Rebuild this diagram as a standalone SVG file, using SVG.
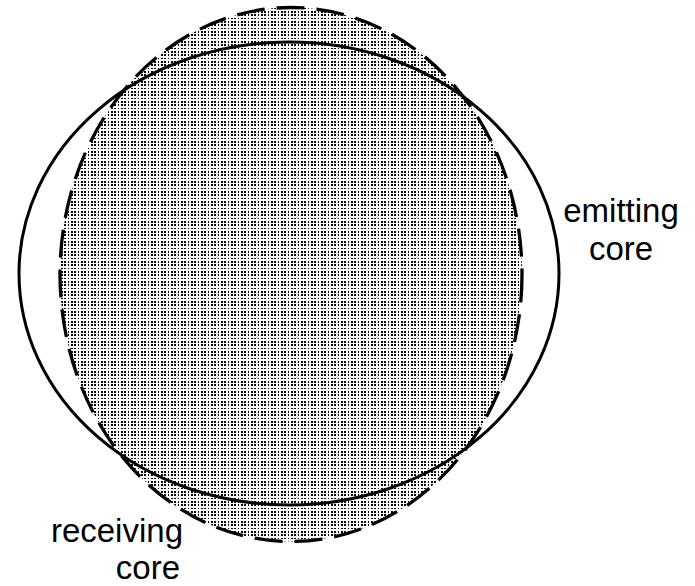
<svg xmlns="http://www.w3.org/2000/svg" width="695" height="586" viewBox="0 0 695 586">
  <style>
    .lbl { font-family: "Liberation Sans", Arial, sans-serif; font-size: 33px; fill: #000; }
    .solid { fill: none; stroke: #000; stroke-width: 3; }
    .dashed { fill: url(#dots); stroke: #000; stroke-width: 3.3; stroke-dasharray: 28 12; }
  </style>
  <defs>
    <pattern id="dots" patternUnits="userSpaceOnUse" width="10" height="10">
      <rect width="10" height="10" fill="#fff"/>
      <g fill="#000" shape-rendering="crispEdges">
        <rect x="1" y="1" width="2" height="2"/><rect x="4" y="1" width="2" height="2"/><rect x="8" y="1" width="1" height="2"/>
        <rect x="1" y="4" width="2" height="2"/><rect x="4" y="4" width="2" height="2"/><rect x="8" y="4" width="1" height="2"/>
        <rect x="1" y="8" width="2" height="1"/><rect x="4" y="8" width="2" height="1"/><rect x="8" y="8" width="1" height="1"/>
      </g>
    </pattern>
  </defs>
  <rect width="695" height="586" fill="#fff"/>
  <g id="receiving-core">
    <ellipse class="dashed" cx="291" cy="274.5" rx="231" ry="267"/>
  </g>
  <g id="emitting-core">
    <ellipse class="solid" cx="289" cy="273.5" rx="270" ry="231.5"/>
  </g>
  <g id="connectors"></g>
  <g id="labels">
    <text class="lbl" x="621" y="222" text-anchor="middle">emitting</text>
    <text class="lbl" x="621" y="260" text-anchor="middle">core</text>
    <text class="lbl" x="183" y="542" text-anchor="end">receiving</text>
    <text class="lbl" x="180" y="579" text-anchor="end">core</text>
  </g>
</svg>
